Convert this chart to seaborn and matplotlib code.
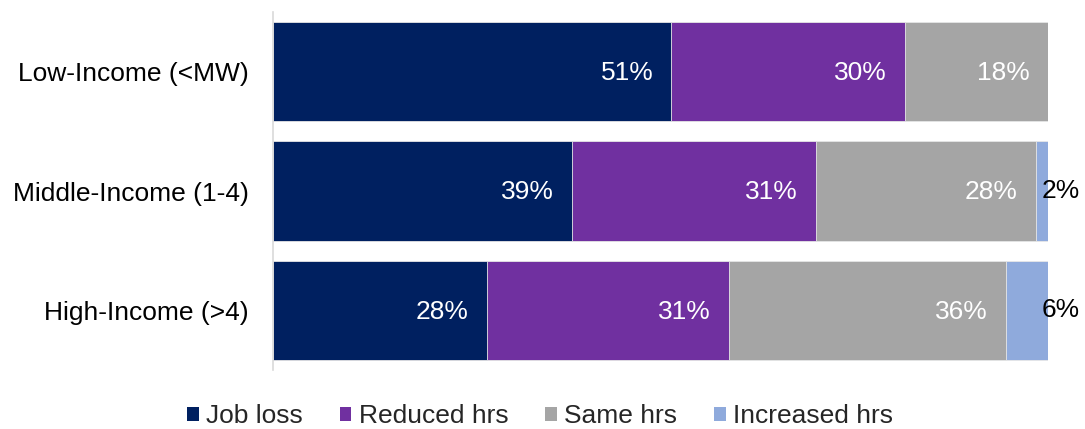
import matplotlib
matplotlib.use("Agg")
import matplotlib.pyplot as plt
from matplotlib.patches import Patch
import numpy as np
import pandas as pd
import seaborn as sns

# Share of workers by change in work status, per income group (%)
groups = ["Low-Income (<MW)", "Middle-Income (1-4)", "High-Income (>4)"]
job_loss = [51.4, 38.6, 27.6]
reduced_hrs = [30.1, 31.4, 31.2]
same_hrs = [18.4, 28.4, 35.7]
increased_hrs = [0.0, 1.6, 5.5]

series_names = ["Job loss", "Reduced hrs", "Same hrs", "Increased hrs"]
series_colors = ["#002060", "#7030A0", "#A5A5A5", "#8FAADC"]

FS = 19

sns.set_theme(style="white")
plt.rcParams["font.family"] = ["Liberation Sans", "DejaVu Sans"]

values = np.array([job_loss, reduced_hrs, same_hrs, increased_hrs])
cumulative = values.cumsum(axis=0)

fig = plt.figure(figsize=(10.85, 4.29), dpi=100)
ax = fig.add_axes([0.2512, 0.1375, 0.7150, 0.8345])

# Stacked bars: draw the cumulative totals from the outermost segment inwards
for i in reversed(range(len(series_names))):
    df = pd.DataFrame({"group": groups, "value": cumulative[i]})
    sns.barplot(data=df, x="value", y="group", orient="h", color=series_colors[i],
                width=0.83, saturation=1, edgecolor="#E8E8E8", linewidth=0.6, ax=ax)

# Value labels
for i, name in enumerate(series_names):
    for j in range(len(groups)):
        v = values[i, j]
        if v <= 0:
            continue
        end = cumulative[i, j]
        label = f"{v:.0f}%"
        if name == "Increased hrs":
            ax.annotate(label, xy=(end, j), xytext=(22.5, 0), textcoords="offset points",
                        ha="right", va="center", color="black", fontsize=FS,
                        annotation_clip=False)
        else:
            ax.annotate(label, xy=(end, j), xytext=(-13, -1), textcoords="offset points",
                        ha="right", va="center", color="white", fontsize=FS)

ax.set_xlim(0, 100)
ax.set_ylim(2.5, -0.5)
ax.set_xlabel("")
ax.set_ylabel("")
ax.set_xticks([])
ax.tick_params(axis="y", length=0, pad=17, labelsize=FS, labelcolor="black")
for side in ["top", "right", "bottom"]:
    ax.spines[side].set_visible(False)
ax.spines["left"].set_color("#D9D9D9")
ax.spines["left"].set_linewidth(1.2)

handles = [Patch(facecolor=c, edgecolor="none") for c in series_colors]
fig.legend(handles, series_names, loc="center", bbox_to_anchor=(0.4977, 0.03),
           ncol=4, frameon=False, fontsize=FS, handlelength=0.45, handleheight=0.45,
           handletextpad=0.27, columnspacing=1.4)

fig.savefig("out.png", dpi=100, facecolor="white")
